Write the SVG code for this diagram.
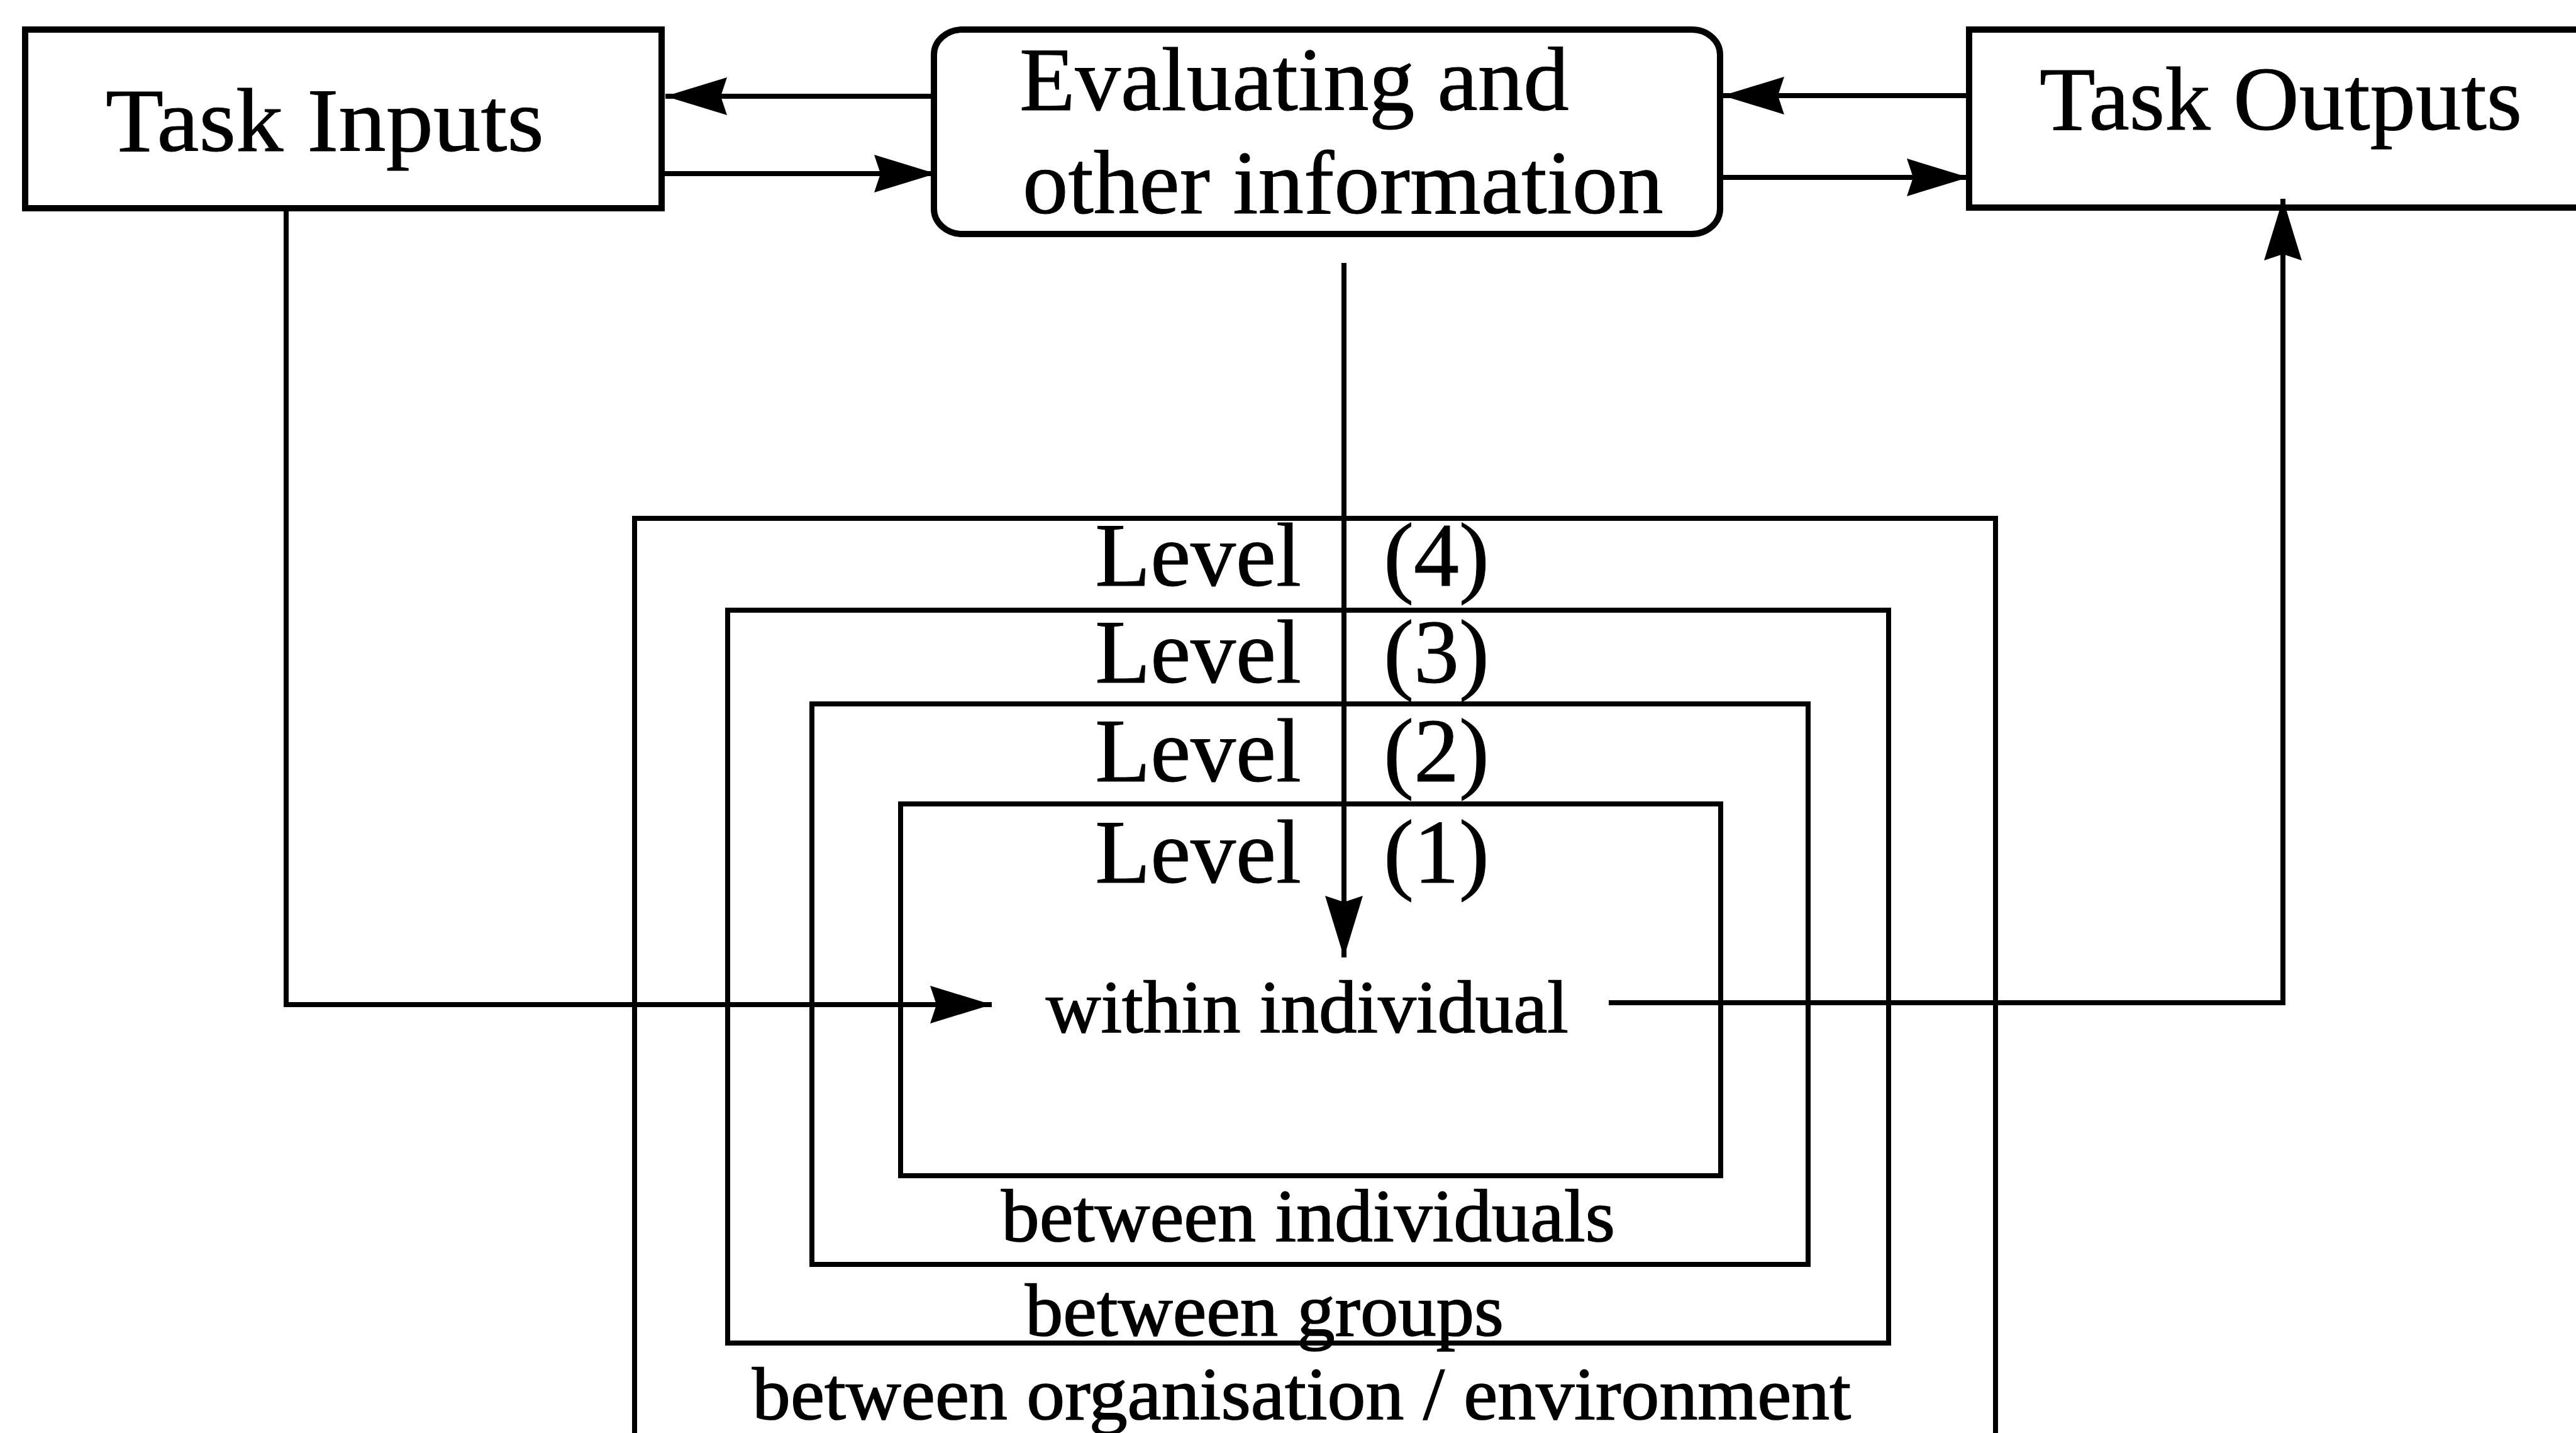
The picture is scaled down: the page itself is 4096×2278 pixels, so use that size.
<svg xmlns="http://www.w3.org/2000/svg" width="4096" height="2278" viewBox="0 0 4096 2278">
<style>
.box{fill:#fff;stroke:#000;stroke-width:10}
.lvl{fill:none;stroke:#000;stroke-width:8}
.con{fill:none;stroke:#000;stroke-width:8}
.big{font-family:"Liberation Serif","Times New Roman",serif;font-size:145px;fill:#000;stroke:#000;stroke-width:1}
.lev{font-family:"Liberation Serif","Times New Roman",serif;font-size:144px;fill:#000;stroke:#000;stroke-width:1}
.sm{font-family:"Liberation Serif","Times New Roman",serif;font-size:118px;fill:#000;stroke:#000;stroke-width:1.6}
</style>
<defs>
<marker id="ah" viewBox="0 -32 100 64" refX="98" refY="0" markerWidth="100" markerHeight="64" markerUnits="userSpaceOnUse" orient="auto">
<path d="M0,-30 L98,0 L0,30 L10,0 Z" fill="#000"/>
</marker>
</defs>
<rect width="4096" height="2278" fill="#fff"/>
<g id="level4">
<rect class="lvl" x="1009" y="824" width="2164" height="1500"/>
<text class="sm" x="1196" y="2256" textLength="1747" lengthAdjust="spacingAndGlyphs">between organisation / environment</text>
<text class="lev" x="2069" y="931" text-anchor="end">Level</text>
<text class="lev" x="2200" y="931">(4)</text>
</g>
<g id="level3">
<rect class="lvl" x="1157" y="970" width="1846" height="1165"/>
<text class="sm" x="1630" y="2123" textLength="761" lengthAdjust="spacingAndGlyphs">between groups</text>
<text class="lev" x="2069" y="1085" text-anchor="end">Level</text>
<text class="lev" x="2200" y="1085">(3)</text>
</g>
<g id="level2">
<rect class="lvl" x="1291" y="1119" width="1584" height="891"/>
<text class="sm" x="1592" y="1973" textLength="976" lengthAdjust="spacingAndGlyphs">between individuals</text>
<text class="lev" x="2069" y="1242" text-anchor="end">Level</text>
<text class="lev" x="2200" y="1242">(2)</text>
</g>
<g id="level1">
<rect class="lvl" x="1432" y="1278" width="1304" height="591"/>
<text class="lev" x="2069" y="1403" text-anchor="end">Level</text>
<text class="lev" x="2200" y="1403">(1)</text>
</g>
<g id="within">
<rect x="1640" y="1540" width="920" height="120" fill="#fff"/>
<text class="sm" x="1663" y="1641" textLength="831" lengthAdjust="spacingAndGlyphs">within individual</text>
</g>
<g id="task-inputs">
<rect class="box" x="40" y="47" width="1012" height="284"/>
<text class="big" x="168" y="240" textLength="697" lengthAdjust="spacingAndGlyphs">Task Inputs</text>
</g>
<g id="evaluating">
<rect class="box" x="1485" y="47" width="1250" height="325" rx="45" ry="40"/>
<text class="big" x="1621" y="175">Evaluating and</text>
<text class="big" x="1626" y="339">other information</text>
</g>
<g id="task-outputs">
<rect class="box" x="3131" y="47" width="1100" height="283"/>
<text class="big" x="3243" y="206">Task Outputs</text>
</g>
<g id="connectors">
<line class="con" x1="1485" y1="153" x2="1058" y2="153" marker-end="url(#ah)"/>
<line class="con" x1="1052" y1="276" x2="1488" y2="276" marker-end="url(#ah)"/>
<line class="con" x1="3131" y1="152" x2="2739" y2="152" marker-end="url(#ah)"/>
<line class="con" x1="2735" y1="282" x2="3130" y2="282" marker-end="url(#ah)"/>
<line class="con" x1="2137" y1="418" x2="2137" y2="1522" marker-end="url(#ah)"/>
<polyline class="con" points="455,331 455,1597 1577,1597" marker-end="url(#ah)"/>
<polyline class="con" points="2558,1594 3630,1594 3630,316" marker-end="url(#ah)"/>
</g>
</svg>
